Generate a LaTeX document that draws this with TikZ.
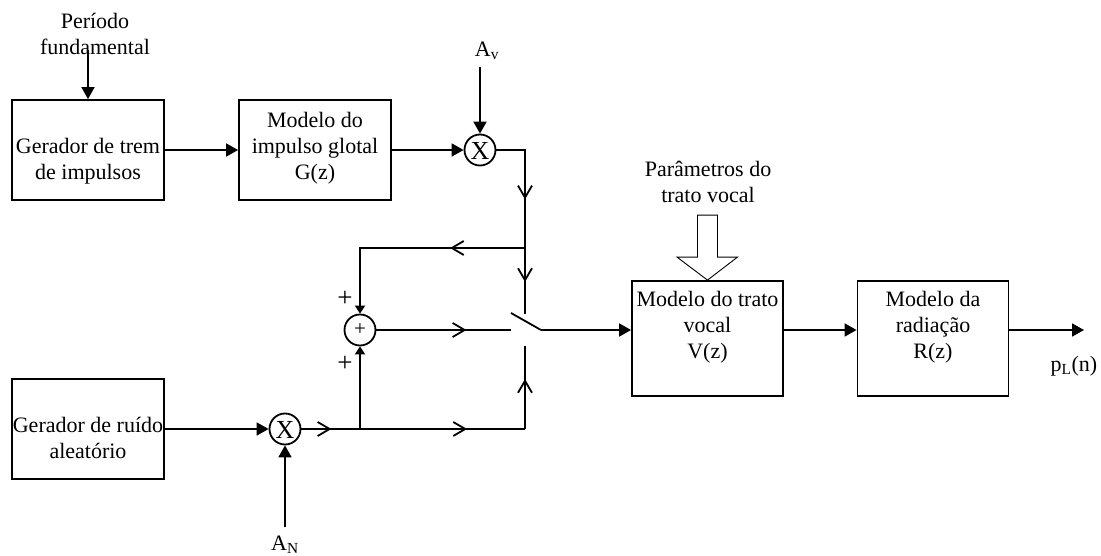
\documentclass[tikz,border=0pt]{standalone}
\usepackage{fontspec}
\setmainfont{Liberation Serif}
\usetikzlibrary{arrows.meta,decorations.markings,calc}
\begin{document}
\begin{tikzpicture}[x=1pt,y=-1pt,
  font=\fontsize{22pt}{26pt}\selectfont,
  line width=1.8pt,
  blk/.style={draw, line width=1.8pt, minimum width=152pt, minimum height=100pt, inner sep=0pt},
  blkR/.style={blk, minimum width=151pt, minimum height=115pt},
  txt/.style={inner sep=0pt, align=center},
  opnode/.style={draw, circle, minimum size=31pt, inner sep=0pt, line width=1.8pt},
  farrow/.style={-{Triangle[length=12pt,width=13pt]}},
  sarrow/.style={-{Triangle[length=8pt,width=10pt]}},
  midarr/.style={postaction={decorate}, decoration={markings, mark=at position #1 with {\arrow{Straight Barb[length=12pt,width=14pt,line width=1.8pt]}}}},
]
\useasboundingbox (0,0) rectangle (1101,556);
\fill[white] (0,0) rectangle (1101,556);

% blocks
\node[blk] (gen) at (88,150) {};
\node[txt] (genT) at (88,161) {Gerador de trem\\de impulsos};
\node[blk] (glot) at (315,150) {};
\node[txt] (glotT) at (315,148) {Modelo do\\impulso glotal\\G(z)};
\node[opnode] (mulV) at (480,150) {};
\node[txt] (mulVT) at (480,151) {\fontsize{26pt}{26pt}\selectfont X};
\node[blk] (noise) at (88,429) {};
\node[txt] (noiseT) at (88,438) {Gerador de ruído\\aleatório};
\node[opnode] (mulN) at (285,429) {};
\node[txt] (mulNT) at (285,430) {\fontsize{26pt}{26pt}\selectfont X};
\node[opnode] (sum) at (360,330) {};
\node[txt] (sumT) at (360,330) {\fontsize{21pt}{21pt}\selectfont +};
\node[txt] (plus1) at (345,299) {\fontsize{27pt}{27pt}\selectfont +};
\node[txt] (plus2) at (345,364) {\fontsize{27pt}{27pt}\selectfont +};
\node[blkR] (voc) at (707.5,338.5) {};
\node[txt] (vocT) at (707.5,327) {Modelo do trato\\vocal\\V(z)};
\node[blkR] (rad) at (933,338.5) {};
\node[txt] (radT) at (933,327) {Modelo da\\radiação\\R(z)};

% labels
\node[txt] (perL) at (95,34) {Período\\fundamental};
\node[txt] (avL) at (487,51) {A\textsubscript{v}};
\node[txt] (anL) at (285,545) {A\textsubscript{N}};
\node[txt] (plL) at (1074,366) {p\textsubscript{L}(n)};
\node[txt] (parL) at (708,182) {Parâmetros do\\trato vocal};

% coordinates
\coordinate (perA) at (88,50);
\coordinate (avA) at (480,67);
\coordinate (anA) at (285,527);
\coordinate (cV) at (525,150);
\coordinate (j1) at (525,248);
\coordinate (swT) at (525,314);
\coordinate (cF) at (360,248);
\coordinate (swL) at (511,330);
\coordinate (bl1) at (511,313);
\coordinate (swR) at (541,330);
\coordinate (j2) at (360,429);
\coordinate (cN) at (525,429);
\coordinate (swB) at (525,346);
\coordinate (out) at (1084,330);

% connectors
\draw[farrow] (perA) -- (gen.north);
\draw[farrow] (gen) -- (glot);
\draw[farrow] (glot) -- (mulV);
\draw[farrow] (avA) -- (mulV.north);
\draw[midarr=78pt] (mulV.east) -- (cV) -- (j1);
\draw[midarr=34pt] (j1) -- (swT);
\draw[midarr=75pt, sarrow] (j1) -- (cF) -- (sum.north);
\draw[midarr=90pt] (sum.east) -- (swL);
\draw (bl1) -- (swR);
\draw[farrow] (swR) -- (swR -| voc.west);
\draw[farrow] (swR -| voc.east) -- (swR -| rad.west);
\draw[farrow] (swR -| rad.east) -- (out);
\draw[farrow] (noise) -- (mulN);
\draw[farrow] (anA) -- (mulN.south);
\draw[midarr=30pt] (mulN.east) -- (j2);
\draw[sarrow] (j2) -- (sum.south);
\draw[midarr=107pt] (j2) -- (cN);
\draw[midarr=50pt] (cN) -- (swB);

% hollow arrow
\draw[line width=0.9pt] ($(voc.north)+(-10,-65)$) -- ++(20,0) -- ++(0,42) -- ++(20,0) -- (voc.north) -- ++(-30.5,-23) -- ++(20.5,0) -- cycle;
\end{tikzpicture}
\end{document}
